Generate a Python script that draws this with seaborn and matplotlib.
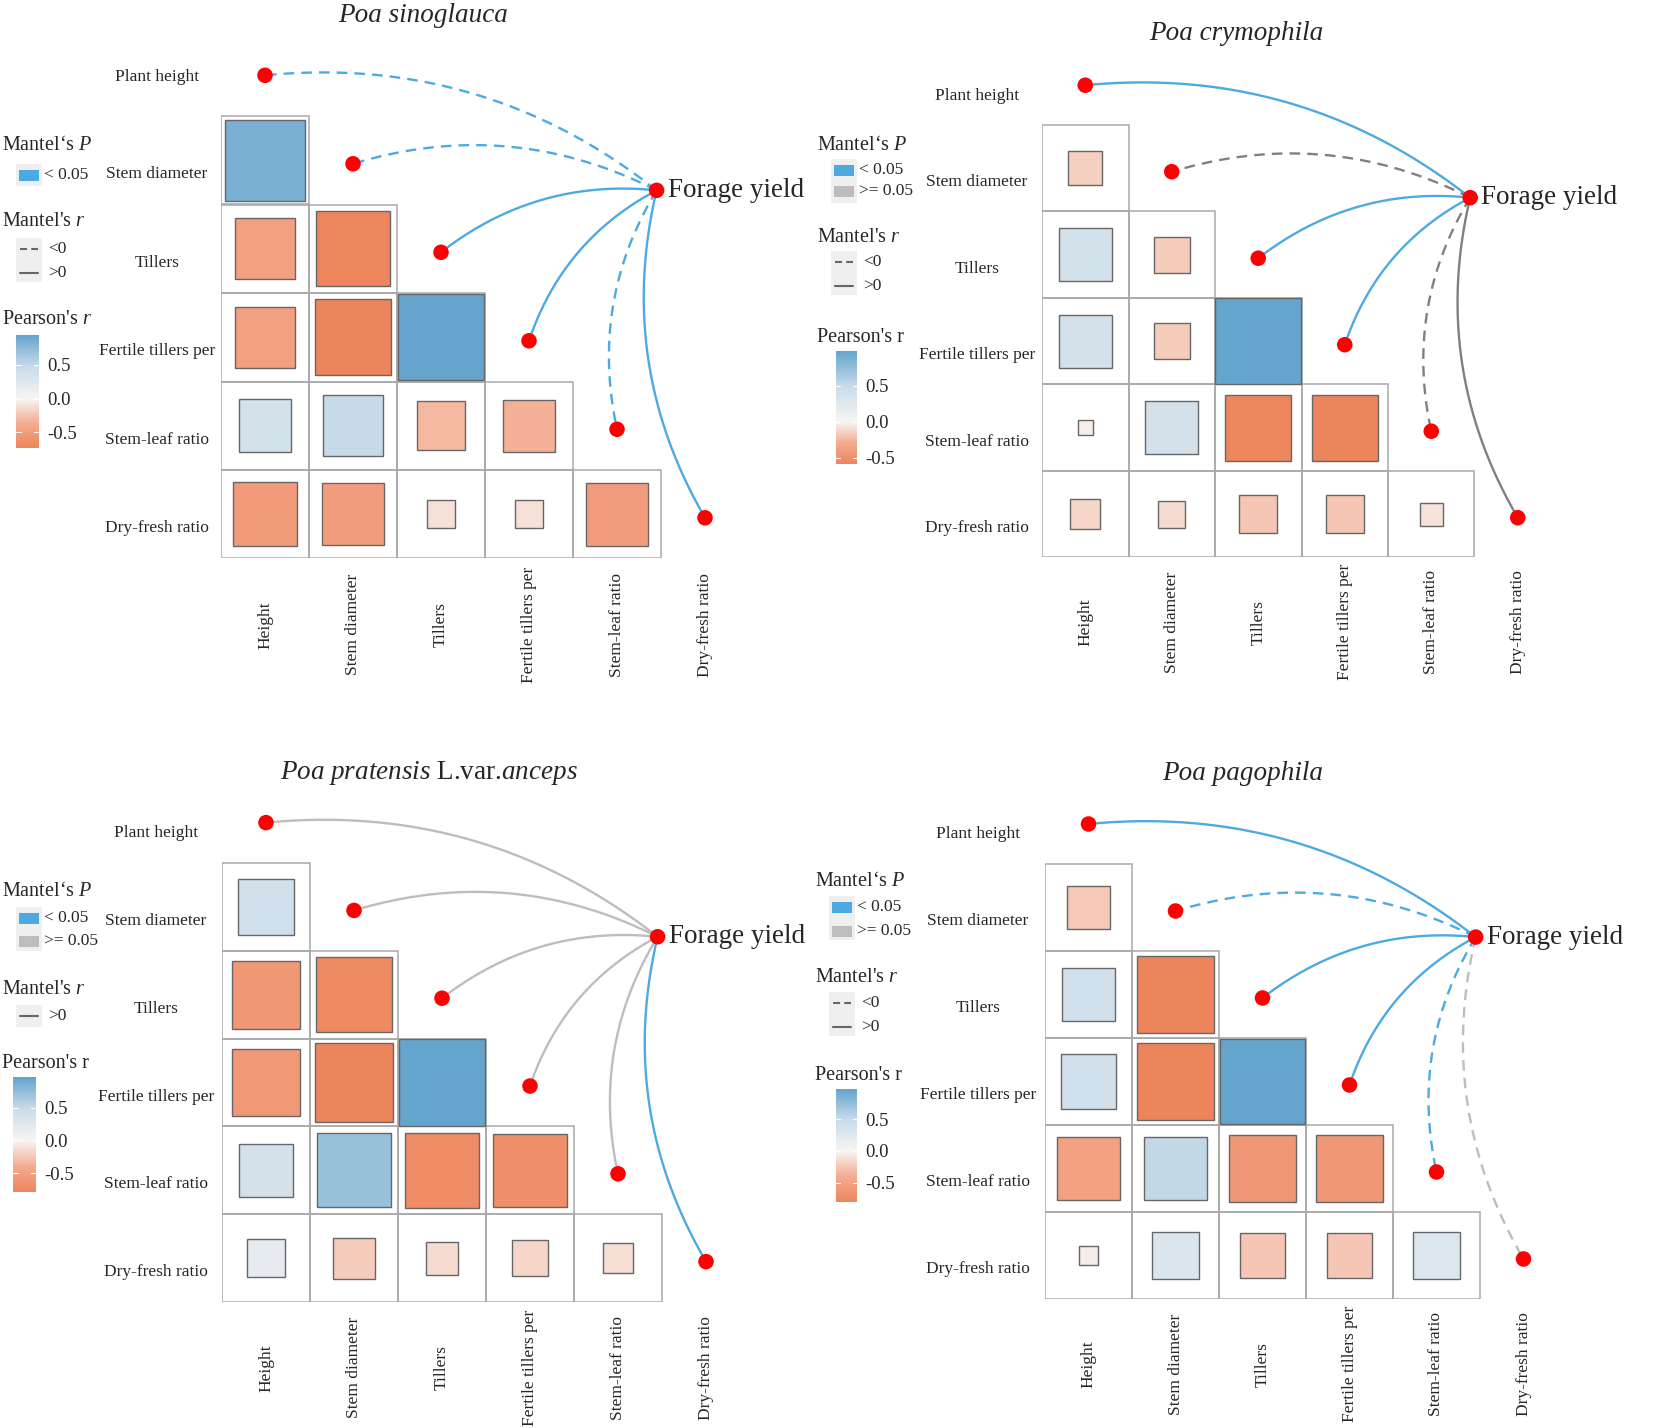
import numpy as np
import pandas as pd
import matplotlib
matplotlib.use("Agg")
import matplotlib.pyplot as plt
import seaborn as sns
from matplotlib.patches import Rectangle
from matplotlib.colors import LinearSegmentedColormap, Normalize
from matplotlib.cm import ScalarMappable

# ---------------- data ----------------
row_labels = ["Plant height", "Stem diameter", "Tillers", "Fertile tillers per",
              "Stem-leaf ratio", "Dry-fresh ratio"]
col_labels = ["Height", "Stem diameter", "Tillers", "Fertile tillers per",
              "Stem-leaf ratio", "Dry-fresh ratio"]
env_label = "Forage yield"

titles = ["Poa sinoglauca", "Poa crymophila",
          r"$\mathit{Poa\ pratensis}$ L.var.$\mathit{anceps}$", "Poa pagophila"]

# Pearson's r, lower triangle (row i has i values; row "Plant height" has none)
r_sinoglauca = [[0.83],
                [-0.48, -0.72],
                [-0.48, -0.73, 0.94],
                [0.36, 0.48, -0.31, -0.34],
                [-0.52, -0.49, -0.10, -0.10, -0.50]]
r_crymophila = [[-0.15],
                [0.38, -0.17],
                [0.37, -0.17, 0.98],
                [-0.03, 0.37, -0.58, -0.59],
                [-0.12, -0.10, -0.19, -0.19, -0.07]]
r_pratensis = [[0.40],
               [-0.60, -0.74],
               [-0.59, -0.79, 0.97],
               [0.37, 0.71, -0.72, -0.69],
               [0.18, -0.22, -0.14, -0.17, -0.12]]
r_pagophila = [[-0.24],
               [0.385, -0.80],
               [0.39, -0.80, 0.97],
               [-0.51, 0.51, -0.61, -0.61],
               [-0.05, 0.30, -0.26, -0.26, 0.28]]

# Mantel test: P < 0.05 (True) and r < 0 (True), per variable (Plant height ... Dry-fresh ratio)
sig_sinoglauca = [True, True, True, True, True, True]
neg_sinoglauca = [True, True, False, False, True, False]
sig_crymophila = [True, False, True, True, False, False]
neg_crymophila = [False, True, False, False, True, False]
sig_pratensis = [False, False, False, False, False, True]
neg_pratensis = [False, False, False, False, False, False]
sig_pagophila = [True, True, True, True, True, False]
neg_pagophila = [False, True, False, False, True, True]

# legend entries shown per panel
pkeys_sinoglauca = ["< 0.05"]
pkeys_crymophila = ["< 0.05", ">= 0.05"]
pkeys_pratensis = ["< 0.05", ">= 0.05"]
pkeys_pagophila = ["< 0.05", ">= 0.05"]
rkeys_sinoglauca = ["<0", ">0"]
rkeys_crymophila = ["<0", ">0"]
rkeys_pratensis = [">0"]
rkeys_pagophila = ["<0", ">0"]
cbar_ticks = [-0.5, 0.0, 0.5]

panels = [
    dict(r=r_sinoglauca, sig=sig_sinoglauca, neg=neg_sinoglauca,
         pkeys=pkeys_sinoglauca, rkeys=rkeys_sinoglauca),
    dict(r=r_crymophila, sig=sig_crymophila, neg=neg_crymophila,
         pkeys=pkeys_crymophila, rkeys=rkeys_crymophila),
    dict(r=r_pratensis, sig=sig_pratensis, neg=neg_pratensis,
         pkeys=pkeys_pratensis, rkeys=rkeys_pratensis),
    dict(r=r_pagophila, sig=sig_pagophila, neg=neg_pagophila,
         pkeys=pkeys_pagophila, rkeys=rkeys_pagophila),
]

# ---------------- style / layout ----------------
sns.set_theme(style="white")
plt.rcParams["font.family"] = ["Liberation Serif", "DejaVu Serif"]
plt.rcParams["mathtext.fontset"] = "custom"
plt.rcParams["mathtext.rm"] = "Liberation Serif"
plt.rcParams["mathtext.it"] = "Liberation Serif:italic"
plt.rcParams["mathtext.bf"] = "Liberation Serif:bold"

W, H = 1654, 1428
fig = plt.figure(figsize=(W / 100, H / 100), dpi=100)
fig.patch.set_facecolor("white")

BLUE = "#4DAAE1"
layouts = [
    dict(left=221, top1=116, cw=88.0, ch=88.5, title=(423, 16), lab_x=157,
         ph_dy=0.06, gray="#BDBDBD", italic_pr=True,
         leg_x=2, ytP=146, yP=[175], ytR=222, yR=[249, 273], ytC=320,
         cbar=(16, 39, 335, 448)),
    dict(left=1042, top1=125, cw=86.5, ch=86.5, title=(1236, 33), lab_x=977,
         ph_dy=0.17, gray="#808080", italic_pr=False,
         leg_x=817, ytP=145, yP=[170, 191], ytR=237, yR=[262, 286], ytC=337,
         cbar=(836, 857, 351, 464)),
    dict(left=222, top1=863, cw=88.0, ch=87.8, title=(429, 773), lab_x=156,
         ph_dy=0.16, gray="#BDBDBD", italic_pr=False,
         leg_x=2, ytP=892, yP=[918, 941], ytR=990, yR=[1016], ytC=1064,
         cbar=(13, 36, 1077, 1192)),
    dict(left=1045, top1=864, cw=87.0, ch=87.0, title=(1243, 774), lab_x=978,
         ph_dy=0.16, gray="#BDBDBD", italic_pr=False,
         leg_x=815, ytP=881, yP=[907, 931], ytR=978, yR=[1003, 1027], ytC=1075,
         cbar=(836, 857, 1089, 1202)),
]

C_OR2, C_OR1, C_W, C_B1, C_B2 = "#ED855C", "#F4AC91", "#F7F5F3", "#C9DBE9", "#64A4CD"


def panel_cmap(vmin, vmax):
    f = -vmin / (vmax - vmin)
    nodes = [(0.0, C_OR2), (f / 2, C_OR1), (f, C_W), (f + (1 - f) / 2, C_B1), (1.0, C_B2)]
    return LinearSegmentedColormap.from_list("pc", nodes)


FY = (4.95, 1.84)
DASH = (0, (4.5, 3))

# overlay axes for legends (pixel space)
ov = fig.add_axes([0, 0, 1, 1], zorder=10)
ov.set_xlim(0, W)
ov.set_ylim(H, 0)
ov.axis("off")
ov.patch.set_alpha(0)

for idx, (pdat, lay) in enumerate(zip(panels, layouts)):
    cw, ch = lay["cw"], lay["ch"]
    t0 = lay["top1"] - ch
    ax = fig.add_axes([lay["left"] / W, 1 - (t0 + 6 * ch) / H, 6 * cw / W, 6 * ch / H])
    allr = [v for row in pdat["r"] for v in row]
    vmin, vmax = min(allr), max(allr)
    cmap = panel_cmap(vmin, vmax)
    norm = Normalize(vmin=vmin, vmax=vmax)

    # cells and squares
    for i, row in enumerate(pdat["r"], start=1):
        for j, v in enumerate(row):
            ax.add_patch(Rectangle((j, i), 1, 1, fill=False, edgecolor="#A8A8A8", lw=1.1, zorder=1))
            s = np.sqrt(min(abs(v), 1.0))
            ax.add_patch(Rectangle((j + 0.5 - s / 2, i + 0.5 - s / 2), s, s,
                                   facecolor=cmap(norm(v)), edgecolor="#666666", lw=1.0, zorder=2))

    # Mantel links
    ends = [(k + 0.5, k + 0.54) for k in range(6)]
    t = np.linspace(0, 1, 200)
    for k, (ex, ey) in enumerate(ends):
        sx, sy = FY
        dx, dy = ex - sx, ey - sy
        mx, my = (sx + ex) / 2, (sy + ey) / 2
        c = 0.2
        cx, cy = mx + c * (-dy), my + c * dx
        bx = (1 - t) ** 2 * sx + 2 * (1 - t) * t * cx + t ** 2 * ex
        by = (1 - t) ** 2 * sy + 2 * (1 - t) * t * cy + t ** 2 * ey
        col = BLUE if pdat["sig"][k] else lay["gray"]
        ls = DASH if pdat["neg"][k] else "-"
        ax.plot(bx, by, color=col, lw=1.7, linestyle=ls, zorder=3, solid_capstyle="butt")

    # nodes
    dots = pd.DataFrame({"x": [e[0] for e in ends] + [FY[0]],
                         "y": [e[1] for e in ends] + [FY[1]]})
    sns.scatterplot(data=dots, x="x", y="y", ax=ax, color="#FF0000", s=125,
                    edgecolor="none", zorder=5, legend=False)
    ax.text(FY[0] + 0.13, FY[1], env_label, fontsize=19.5, ha="left", va="center", zorder=6)

    # labels
    lx = (lay["lab_x"] - lay["left"]) / cw
    for k, lab in enumerate(row_labels):
        dy = lay["ph_dy"] if k == 0 else 0.16
        ax.text(lx, k + 0.5 + dy, lab, fontsize=12.5, ha="center", va="center")
    for j, lab in enumerate(col_labels):
        ax.text(j + 0.5, 6.75, lab, fontsize=12.5, ha="center", va="center", rotation=90)

    ax.set_xlim(0, 6)
    ax.set_ylim(6, 0)
    ax.axis("off")
    ax.patch.set_alpha(0)

    # title
    tx, ty = lay["title"]
    style = "normal" if "$" in titles[idx] else "italic"
    ov.text(tx, ty, titles[idx], fontsize=19.5, ha="center", va="center", style=style)

    # legends
    x0 = lay["leg_x"]
    ov.text(x0, lay["ytP"], "Mantel\u2018s $\\mathit{P}$", fontsize=14.5, ha="left", va="center")
    ktop = lay["yP"][0] - 11
    ov.add_patch(Rectangle((x0 + 14, ktop), 26, 22 * len(lay["yP"]), facecolor="#EFEFEF", edgecolor="none"))
    for yk, lab in zip(lay["yP"], pdat["pkeys"]):
        colk = BLUE if lab.startswith("<") else "#BDBDBD"
        ov.add_patch(Rectangle((x0 + 17, yk - 5.5), 20, 11, facecolor=colk, edgecolor="none"))
        ov.text(x0 + 42, yk, lab, fontsize=12.5, ha="left", va="center")

    ov.text(x0, lay["ytR"], "Mantel's $\\mathit{r}$", fontsize=14.5, ha="left", va="center")
    ktop = lay["yR"][0] - 11
    ov.add_patch(Rectangle((x0 + 14, ktop), 26, 22 * len(lay["yR"]), facecolor="#EFEFEF", edgecolor="none"))
    for yk, lab in zip(lay["yR"], pdat["rkeys"]):
        ls = (0, (3.4, 2.0)) if lab.startswith("<") else "-"
        ov.plot([x0 + 18, x0 + 36], [yk, yk], color="#666666", lw=1.5, linestyle=ls)
        ov.text(x0 + 46, yk, lab, fontsize=12.5, ha="left", va="center")

    ptitle = "Pearson's $\\mathit{r}$" if lay["italic_pr"] else "Pearson's r"
    ov.text(x0, lay["ytC"], ptitle, fontsize=14.5, ha="left", va="center")
    cx0, cx1, cy0, cy1 = lay["cbar"]
    cax = fig.add_axes([cx0 / W, 1 - cy1 / H, (cx1 - cx0) / W, (cy1 - cy0) / H], zorder=11)
    cb = fig.colorbar(ScalarMappable(norm=norm, cmap=cmap), cax=cax, ticks=cbar_ticks)
    cb.outline.set_visible(False)
    cax.set_yticklabels([f"{v:.1f}" for v in cbar_ticks])
    cax.tick_params(length=0, labelsize=13.5, pad=6)
    for v in cbar_ticks:
        cax.plot([0, 0.2], [v, v], color="white", lw=0.8, transform=cax.get_yaxis_transform())
        cax.plot([0.8, 1.0], [v, v], color="white", lw=0.8, transform=cax.get_yaxis_transform())

fig.savefig("out.png", dpi=100, facecolor="white")
